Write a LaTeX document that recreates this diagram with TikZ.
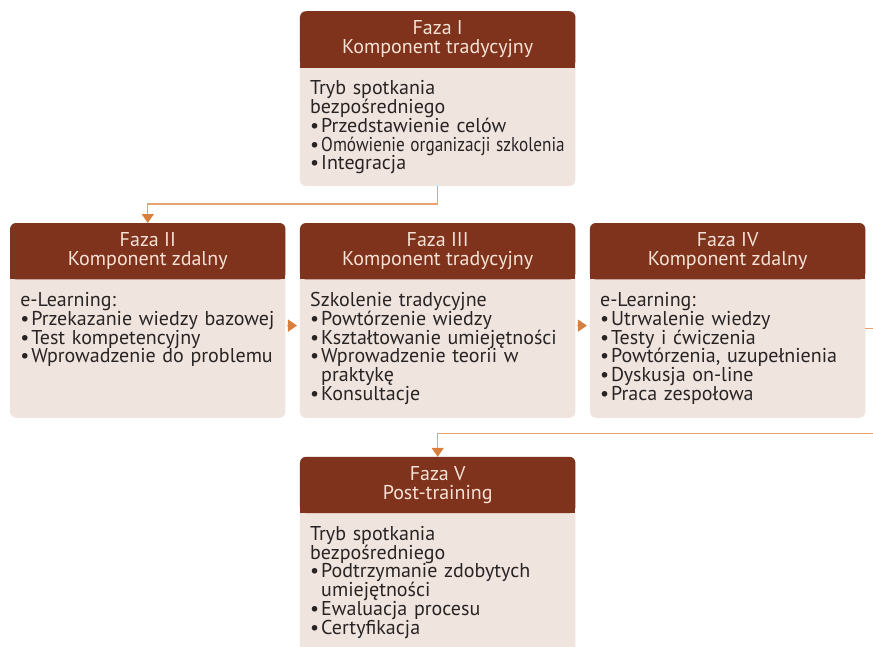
\documentclass[tikz,border=0pt]{standalone}
\usepackage{fontspec}
\setmainfont{PT Sans}
\usepackage{graphicx}
\usetikzlibrary{positioning, arrows.meta, backgrounds}
\usepackage{xcolor}

\definecolor{hdrc}{RGB}{127,51,28}
\definecolor{bodyc}{RGB}{240,228,223}
\definecolor{hdrtxt}{RGB}{246,226,214}
\definecolor{txtc}{RGB}{40,36,36}
\definecolor{linec}{RGB}{229,163,115}
\definecolor{tipc}{RGB}{218,126,60}

\newcommand{\pkt}{\textbullet\hspace{2pt}}
\newcommand{\wci}{\phantom{\textbullet\hspace{2pt}}}

\begin{document}
\begin{tikzpicture}[
    node distance=14.5pt,
    hdr/.style={minimum width=275pt, minimum height=56pt, inner sep=0pt,
        align=center, text=hdrtxt, font=\fontsize{20}{19}\selectfont},
    frame/.style={minimum width=275pt, inner sep=0pt},
    txt/.style={anchor=north west, text width=260pt, align=left,
        inner xsep=10pt, inner ysep=13pt, text=txtc,
        font=\fontsize{20}{18.7}\selectfont},
    flow/.style={draw=linec, line width=1.3pt,
        -{Triangle[width=12pt, length=9pt, color=tipc]}}
]

% phases in the middle row
\node[hdr] (h3) {Faza III\\Komponent tradycyjny};
\node[frame, minimum height=138pt, below=0pt of h3] (f3) {};
\node[hdr, left=of h3] (h2) {Faza II\\Komponent zdalny};
\node[frame, minimum height=138pt, below=0pt of h2] (f2) {};
\node[hdr, right=of h3] (h4) {Faza IV\\Komponent zdalny};
\node[frame, minimum height=138pt, below=0pt of h4] (f4) {};

% first and last phase
\node[frame, minimum height=118pt, above=37pt of h3] (f1) {};
\node[hdr, above=0pt of f1] (h1) {Faza I\\Komponent tradycyjny};
\node[hdr, below=39pt of f3] (h5) {Faza V\\Post-training};
\node[frame, minimum height=160pt, below=0pt of h5] (f5) {};

\pgfresetboundingbox
\useasboundingbox ([xshift=-300pt, yshift=223pt]h3.north west) rectangle ++(873pt,-646pt);

% contents
\node[txt] (t1) at (f1.north west) {Tryb spotkania\\bezpośredniego\\
    \pkt Przedstawienie celów\\
    \pkt\scalebox{0.86}[1]{Omówienie organizacji szkolenia}\\
    \pkt Integracja};
\node[txt] (t2) at (f2.north west) {e-Learning:\\
    \pkt Przekazanie wiedzy bazowej\\
    \pkt Test kompetencyjny\\
    \pkt Wprowadzenie do problemu};
\node[txt] (t3) at (f3.north west) {Szkolenie tradycyjne\\
    \pkt Powtórzenie wiedzy\\
    \pkt Kształtowanie umiejętności\\
    \pkt Wprowadzenie teorii w\\ \wci praktykę\\
    \pkt Konsultacje};
\node[txt] (t4) at (f4.north west) {e-Learning:\\
    \pkt Utrwalenie wiedzy\\
    \pkt Testy i ćwiczenia\\
    \pkt Powtórzenia, uzupełnienia\\
    \pkt Dyskusja on-line\\
    \pkt Praca zespołowa};
\node[txt] (t5) at (f5.north west) {Tryb spotkania\\bezpośredniego\\
    \pkt Podtrzymanie zdobytych\\ \wci umiejętności\\
    \pkt Ewaluacja procesu\\
    \pkt Certyfikacja};

% box backgrounds
\begin{scope}[on background layer]
\foreach \n in {1,...,5} {
    \fill[bodyc, rounded corners=6pt] (h\n.north west) rectangle (f\n.south east);
    \fill[hdrc, rounded corners=6pt] (h\n.north west) rectangle (h\n.south east);
    \fill[hdrc] ([yshift=10pt]h\n.south west) rectangle (h\n.south east);
}
\end{scope}

% connectors
\draw[flow] (f1.south) -- ++(0,-18pt) -| (h2.north);
\draw[flow, shorten <=2pt, shorten >=3pt] ([yshift=23pt]f2.east) -- ([yshift=23pt]f3.west);
\draw[flow, shorten <=2pt, shorten >=3pt] ([yshift=23pt]f3.east) -- ([yshift=23pt]f4.west);
\draw[flow] ([yshift=20pt]f4.east) -- ++(30pt,0) |- ([yshift=23pt]h5.north) -- (h5.north);

\end{tikzpicture}
\end{document}
